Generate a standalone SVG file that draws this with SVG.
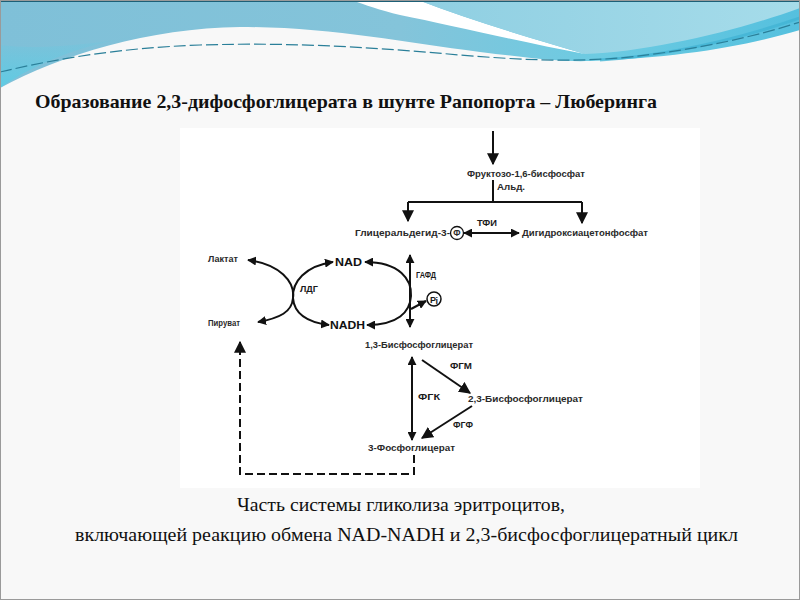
<svg xmlns="http://www.w3.org/2000/svg" width="800" height="600" viewBox="0 0 800 600">
<defs>
<linearGradient id="gBase" x1="0" y1="0" x2="1" y2="0">
<stop offset="0" stop-color="#7fc0d8"/><stop offset="0.5" stop-color="#84c4da"/><stop offset="0.75" stop-color="#6ccbe2"/><stop offset="1" stop-color="#55c0de"/>
</linearGradient>
<linearGradient id="gCorner" x1="0" y1="0" x2="0" y2="1">
<stop offset="0" stop-color="#5fcbe3" stop-opacity="0"/><stop offset="1" stop-color="#5fcbe3" stop-opacity="1"/>
</linearGradient>
<linearGradient id="gRight" x1="0" y1="0" x2="1" y2="0">
<stop offset="0" stop-color="#8fcfe2"/><stop offset="1" stop-color="#a6dcea"/>
</linearGradient>
<marker id="ah" viewBox="0 0 10 10" refX="9" refY="5" markerWidth="9" markerHeight="9" markerUnits="userSpaceOnUse" orient="auto-start-reverse">
<path d="M0,0 L10,5 L0,10 Z" fill="#111"/>
</marker>
<marker id="ahL" viewBox="0 0 10 10" refX="9" refY="5" markerWidth="12" markerHeight="12" markerUnits="userSpaceOnUse" orient="auto-start-reverse">
<path d="M0,0 L10,5 L0,10 Z" fill="#111"/>
</marker>
<style>
.lbl{font-family:"Liberation Sans",Arial,sans-serif;font-size:8.5px;font-weight:bold;fill:#2a2a2a}
.enz{font-family:"Liberation Sans",Arial,sans-serif;font-size:9px;font-weight:bold;fill:#1a1a1a}
.big{font-family:"Liberation Sans",Arial,sans-serif;font-size:11px;font-weight:bold;fill:#111}
.ttl{font-family:"Liberation Serif","Times New Roman",serif;font-size:19px;font-weight:bold;fill:#111}
.cap{font-family:"Liberation Serif","Times New Roman",serif;font-size:18px;fill:#111}
.ln{fill:none;stroke:#111;stroke-width:2}
.dash{fill:none;stroke:#111;stroke-width:2;stroke-dasharray:8,4}
</style>
</defs>

<!-- slide background -->
<rect x="0" y="0" width="800" height="600" fill="#f8f8f8"/>
<path d="M0,0 H800 V30 C750,45 680,58 590,61 C560,62 530,58 480,52 C400,42 330,27 240,27 C150,28 60,55 0,88 Z" fill="url(#gBase)"/>
<path d="M0,45 C40,50 90,45 150,34 C90,42 40,60 0,88 Z" fill="url(#gCorner)"/>
<path d="M352,0 L418,0 C470,20 530,38 585,54 C520,42 450,25 400,15 C380,10 365,5 352,0 Z" fill="#ffffff"/>
<path d="M418,0 H800 V8 C740,30 650,52 585,54 C530,38 470,20 418,0 Z" fill="url(#gRight)"/>
<path d="M600,60 C680,55 750,35 800,18" fill="none" stroke="#3fb2d3" stroke-width="3" opacity="0.7"/>
<path d="M0,72 C60,58 120,48 200,45 C300,42 380,48 460,55 C520,60 570,62 620,58 C700,50 760,35 800,22" fill="none" stroke="#2a7f99" stroke-width="1.2" stroke-dasharray="12,4"/>
<rect x="0" y="0" width="800" height="2" fill="#1d5f76"/>
<rect x="0.5" y="0.5" width="799" height="599" fill="none" stroke="#9a9a9a" stroke-width="1"/>

<!-- title -->
<text class="ttl" x="35" y="108" textLength="622" lengthAdjust="spacingAndGlyphs">Образование 2,3-дифосфоглицерата в шунте Рапопорта – Люберинга</text>

<!-- diagram panel -->
<rect x="180" y="128" width="520" height="360" fill="#ffffff"/>

<g id="connectors">
<path class="ln" d="M493,131 L493,164" marker-end="url(#ahL)"/>
<path class="ln" d="M493,180 L493,202"/>
<path class="ln" d="M408,202 L582,202" stroke-width="2.5"/>
<path class="ln" d="M408,202 L408,221" marker-end="url(#ahL)"/>
<path class="ln" d="M582,202 L582,223" marker-end="url(#ahL)"/>
<path class="ln" d="M464,233 L519,233" marker-start="url(#ah)" marker-end="url(#ah)"/>
<path class="ln" d="M248,260 C280,264 295,282 293,298 C292,312 280,318 258,322" marker-start="url(#ah)" marker-end="url(#ah)"/>
<path class="ln" d="M333,262 C305,266 292,282 293,298 C294,312 305,322 329,325" marker-start="url(#ah)" marker-end="url(#ah)"/>
<path class="ln" d="M365,262 C400,262 412,280 411,296 C410,312 398,325 367,325" marker-start="url(#ah)" marker-end="url(#ah)"/>
<path class="ln" d="M410,255 L410,327" marker-start="url(#ah)" marker-end="url(#ah)"/>
<path class="ln" d="M411,309 L426,301" marker-end="url(#ah)"/>
<path class="ln" d="M412,357 L412,440" marker-start="url(#ah)" marker-end="url(#ah)"/>
<path class="ln" d="M422,360 L470,393" marker-end="url(#ahL)"/>
<path class="ln" d="M472,406 L422,438" marker-end="url(#ahL)"/>
<path class="dash" d="M414,455 L414,474 L240,474 L240,342" marker-end="url(#ahL)"/>
</g>

<g id="fructose"><text class="lbl" x="467" y="177" textLength="118" lengthAdjust="spacingAndGlyphs">Фруктозо-1,6-бисфосфат</text></g>
<g id="aldolase"><text class="lbl" x="497" y="190" textLength="28" lengthAdjust="spacingAndGlyphs">Альд.</text></g>
<g id="gap">
<text class="lbl" x="355" y="236" textLength="95" lengthAdjust="spacingAndGlyphs">Глицеральдегид-3-</text>
<circle cx="457" cy="233" r="6.5" fill="none" stroke="#111" stroke-width="1.3"/>
<text class="lbl" x="457" y="236" text-anchor="middle" font-size="8">Ф</text>
</g>
<g id="tfi"><text class="enz" x="477" y="226" textLength="20" lengthAdjust="spacingAndGlyphs">ТФИ</text></g>
<g id="dhap"><text class="lbl" x="522" y="236" textLength="126" lengthAdjust="spacingAndGlyphs">Дигидроксиацетонфосфат</text></g>
<g id="lactate"><text class="lbl" x="208" y="262" textLength="30" lengthAdjust="spacingAndGlyphs">Лактат</text></g>
<g id="pyruvate"><text class="lbl" x="208" y="326" textLength="32" lengthAdjust="spacingAndGlyphs">Пируват</text></g>
<g id="ldg"><text class="enz" x="300" y="292" textLength="18" lengthAdjust="spacingAndGlyphs">ЛДГ</text></g>
<g id="nad"><text class="big" x="335" y="266" textLength="27" lengthAdjust="spacingAndGlyphs">NAD</text></g>
<g id="nadh"><text class="big" x="330" y="329" textLength="35" lengthAdjust="spacingAndGlyphs">NADH</text></g>
<g id="gapdh"><text class="enz" x="416" y="278" textLength="20" lengthAdjust="spacingAndGlyphs">ГАФД</text></g>
<g id="pi">
<circle cx="434" cy="299" r="7" fill="none" stroke="#111" stroke-width="1.5"/>
<text class="enz" x="430" y="302.5" font-size="9">P</text>
<text class="enz" x="435.5" y="304" font-size="5.5">i</text>
</g>
<g id="bpg13"><text class="lbl" x="365" y="348" textLength="108" lengthAdjust="spacingAndGlyphs">1,3-Бисфосфоглицерат</text></g>
<g id="fgm"><text class="enz" x="450" y="369" textLength="22" lengthAdjust="spacingAndGlyphs">ФГМ</text></g>
<g id="fgk"><text class="enz" x="418" y="400" textLength="22" lengthAdjust="spacingAndGlyphs">ФГК</text></g>
<g id="bpg23"><text class="lbl" x="468" y="402" textLength="115" lengthAdjust="spacingAndGlyphs">2,3-Бисфосфоглицерат</text></g>
<g id="fgf"><text class="enz" x="453" y="428" textLength="20" lengthAdjust="spacingAndGlyphs">ФГФ</text></g>
<g id="pg3"><text class="lbl" x="368" y="451" textLength="87" lengthAdjust="spacingAndGlyphs">3-Фосфоглицерат</text></g>

<!-- caption -->
<text class="cap" x="237" y="511" textLength="328" lengthAdjust="spacingAndGlyphs">Часть системы гликолиза эритроцитов,</text>
<text class="cap" x="75" y="541" textLength="663" lengthAdjust="spacingAndGlyphs">включающей реакцию обмена NAD-NADH и 2,3-бисфосфоглицератный цикл</text>
</svg>
